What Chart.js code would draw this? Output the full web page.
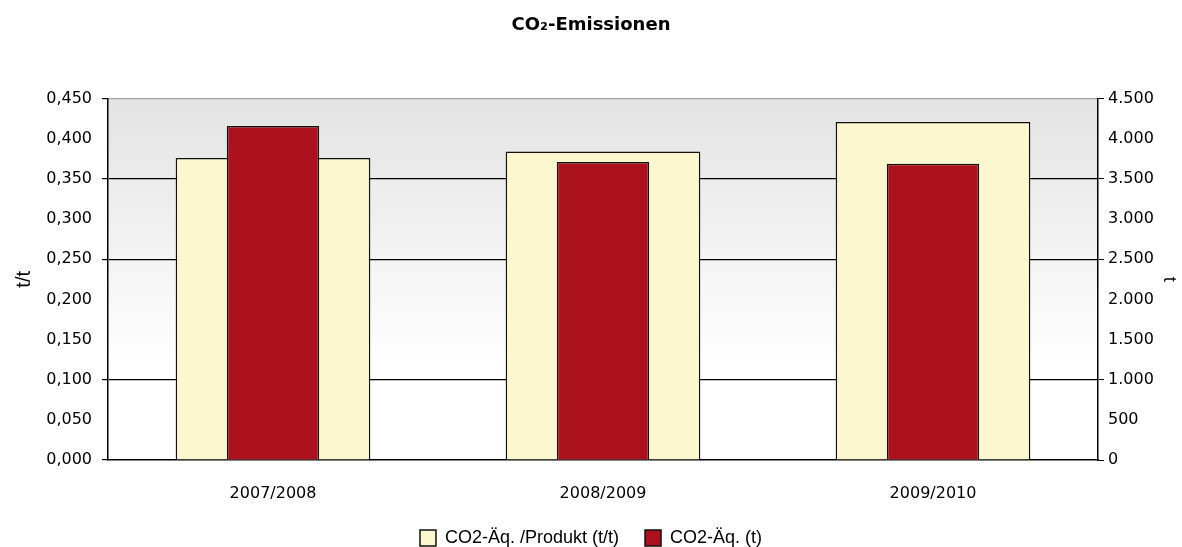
<!DOCTYPE html>
<html>
<head>
<meta charset="utf-8">
<script src="https://cdn.jsdelivr.net/npm/chart.js@4.4.1/dist/chart.umd.min.js"></script>
<style>
  html, body { margin: 0; padding: 0; background: #fff; }
  #wrap { width: 1182px; height: 547px; }
</style>
</head>
<body>
<div id="wrap"><canvas id="co2Chart"></canvas></div>
<script>
const categories = ["2007/2008", "2008/2009", "2009/2010"];
const perProduct = [0.376, 0.384, 0.421];   // t/t, left axis
const totalTons = [4160, 3710, 3690];       // t, right axis
const leftMarks = [0.45, 0.35, 0.25, 0.1, 0];
const rightMarks = [4500, 3500, 2500, 1000, 0];

const tickFont = { family: "DejaVu Sans", size: 16 };

function near(v, list) {
    return list.some(x => Math.abs(x - v) < 1e-6);
}

// grey-to-white gradient behind the plot
const plotBackground = {
    id: "plotBackground",
    beforeDraw(chart) {
        const { ctx, chartArea: a } = chart;
        const g = ctx.createLinearGradient(0, a.top, 0, a.bottom);
        g.addColorStop(0, "#e3e3e3");
        g.addColorStop(0.75, "#ffffff");
        g.addColorStop(1, "#ffffff");
        ctx.save();
        ctx.fillStyle = g;
        ctx.fillRect(a.left, a.top, a.right - a.left, a.bottom - a.top);
        ctx.restore();
    }
};

new Chart(document.getElementById("co2Chart"), {
    type: "bar",
    data: {
        labels: categories,
        datasets: [
            {
                label: "CO2-Äq. /Produkt (t/t)",
                data: perProduct,
                yAxisID: "y",
                backgroundColor: "#fdf7cf",
                borderColor: "#111",
                borderWidth: 1.5,
                barPercentage: 0.59,
                categoryPercentage: 1,
                grouped: false,
                order: 2
            },
            {
                label: "CO2-Äq. (t)",
                data: totalTons,
                yAxisID: "y1",
                backgroundColor: "#ac111e",
                borderColor: "#111",
                borderWidth: 1.5,
                barPercentage: 0.28,
                categoryPercentage: 1,
                grouped: false,
                order: 1
            }
        ]
    },
    options: {
        responsive: true,
        maintainAspectRatio: false,
        animation: false,
        layout: { padding: { left: 0, right: 0, top: 0, bottom: -10 } },
        plugins: {
            title: {
                display: true,
                text: "CO₂-Emissionen",
                color: "#000",
                font: { family: "DejaVu Sans", size: 18, weight: "bold" },
                padding: { top: 15, bottom: 62 }
            },
            legend: {
                position: "bottom",
                labels: {
                    color: "#000",
                    font: { family: "Liberation Sans", size: 18 },
                    boxWidth: 16,
                    boxHeight: 16,
                    padding: 26,
                    sort: (a, b) => a.datasetIndex - b.datasetIndex
                }
            },
            tooltip: { enabled: false }
        },
        scales: {
            x: {
                grid: { display: false, drawTicks: false },
                border: { color: "#000", width: 1.5 },
                ticks: { color: "#000", font: tickFont, padding: 24 },
                afterFit(scale) { scale.height = 43; }
            },
            y: {
                position: "left",
                min: 0,
                max: 0.45,
                ticks: {
                    stepSize: 0.05,
                    color: "#000",
                    font: tickFont,
                    padding: 10,
                    callback: v => v.toLocaleString("de-DE", { minimumFractionDigits: 3, maximumFractionDigits: 3 })
                },
                grid: {
                    color: ctx => near(ctx.tick.value, [0.35, 0.25, 0.1]) ? "#000"
                        : (near(ctx.tick.value, [0.45]) ? "#a0a0a0" : "rgba(0,0,0,0)"),
                    tickColor: ctx => near(ctx.tick.value, leftMarks) ? "#000" : "rgba(0,0,0,0)",
                    lineWidth: 1.2,
                    tickLength: 6
                },
                border: { color: "#000", width: 1.5 },
                title: {
                    display: true,
                    text: "t/t",
                    color: "#000",
                    font: { family: "Liberation Sans", size: 20 },
                    padding: { top: 12, bottom: 0 }
                },
                afterFit(scale) { scale.width = 108; }
            },
            y1: {
                position: "right",
                min: 0,
                max: 4500,
                ticks: {
                    stepSize: 500,
                    color: "#000",
                    font: tickFont,
                    padding: 4,
                    callback: v => v.toLocaleString("de-DE")
                },
                grid: {
                    drawOnChartArea: false,
                    tickColor: ctx => near(ctx.tick.value, rightMarks) ? "#000" : "rgba(0,0,0,0)",
                    tickLength: 6
                },
                border: { color: "#000", width: 1.5 },
                title: {
                    display: true,
                    text: "t",
                    color: "#000",
                    font: { family: "Liberation Sans", size: 18 },
                    padding: { top: 2, bottom: 0 }
                },
                afterFit(scale) { scale.width = 84; }
            }
        }
    },
    plugins: [plotBackground]
});
</script>
</body>
</html>
